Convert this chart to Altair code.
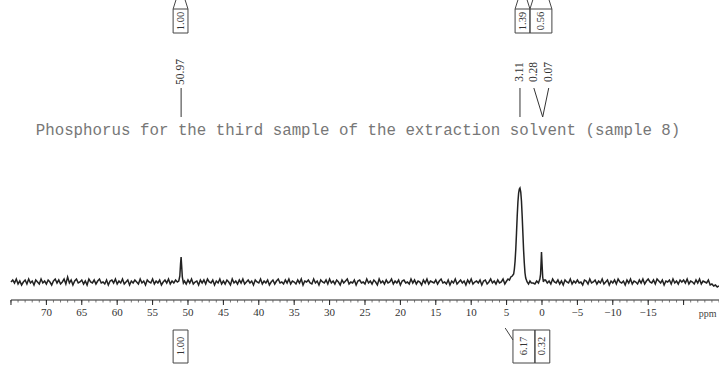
import altair as alt
import pandas as pd

# 31P spectrum: baseline noise sampled every 0.25 ppm from 75 to -25 ppm
grid_start = 75.0
grid_step = 0.25
baseline_noise = [
    0, 2, -1, 3, -2, 1, -3, 0, 2, -2, 3, -1, 1, -3, 2, 0, -2, 3, -1, 1,
    -2, 2, 0, -3, 1, 3, -1, 2, -2, 0, 3, -2, 5, -1, 2, -3, 1, 3, -1, 0,
    2, -2, 1, -3, 3, 0, -1, 2, -2, 1, 3, -1, 0, -2, 2, -3, 1, 2, -1, 3,
    -2, 1, -1, 3, -2, 0, 2, -3, 1, -1, 2, 0, -2, 3, -1, 1, -3, 2, 0, -1,
    3, -2, 1, -1, 2, -3, 0, 2, -1, 3, -2, 1, -1, 2, 0, -2, 3, -1, 1, -2,
    2, -1, 3, -2, 0, 1, -3, 2, -1, 2, -2, 3, 0, -1, 2, -3, 1, -1, 3, -2,
    1, -2, 2, 0, -3, 3, -1, 1, -2, 2, -1, 3, -2, 0, 2, -1, 1, -3, 2, 0,
    -1, 3, -2, 1, -1, 2, -3, 0, 2, -2, 1, 3, -1, 0, -2, 2, -1, 3, -2, 1,
    0, -2, 2, -1, 3, -3, 1, 0, 2, -1, -2, 3, -1, 1, -3, 2, 0, -1, 2, -2,
    3, -1, 1, -2, 2, 0, -3, 2, -1, 1, 3, -2, 0, -1, 2, -3, 1, 2, -1, 0,
    -2, 3, -1, 1, -2, 2, 0, -3, 3, -1, 1, -2, 2, -1, 0, 3, -2, 1, -1, 2,
    -3, 1, 2, -1, 0, -2, 3, -1, 2, -2, 1, 0, -3, 2, -1, 3, -2, 1, 0, -1,
    2, -2, 1, 3, -1, 0, -2, 2, -3, 1, -1, 3, -2, 0, 2, -1, 1, -3, 2, -1,
    3, -2, 0, 1, -1, 2, -3, 1, 2, -2, 0, 3, -1, 1, -2, 2, -1, 0, 3, -2,
    1, 2, 1, 3, 4, 5, 6, 7, 8, 6, 4, 3, 2, 1, 0, -1, -2, 1, -1, 0,
    1, 0, 2, -1, 1, -2, 3, 0, -1, 2, -2, 1, -3, 2, 0, -1, 3, -2, 1, -1,
    2, -1, 0, -3, 2, 1, -2, 3, -1, 0, 2, -2, 1, -1, 3, -2, 0, 2, -3, 1,
    -1, 2, -2, 3, 0, -1, 1, -3, 2, -1, 3, -2, 1, 0, -2, 2, -1, 3, -2, 1,
    3, 0, -1, 2, -2, 3, 1, -1, 2, -3, 1, 0, 2, -2, 3, -1, 1, -2, 2, 0,
    2, -1, 3, -2, 1, 0, -2, 2, -1, 3, -2, 1, 0, -1, 2, -3, -2, -4, -3, -5,
    -4,
]

# resolved signals (ppm, intensity)
peak1_ppm = [51.5, 51.3, 51.15, 51.05, 50.97, 50.9, 50.8, 50.65, 50.5]
peak1_int = [0, 1, 6, 18, 25, 17, 5, -1, 1]

peak2_ppm = [5.0, 4.8, 4.6, 4.4, 4.2, 4.0, 3.9, 3.8, 3.7, 3.6, 3.5, 3.4, 3.3,
             3.2, 3.11, 3.0, 2.9, 2.8, 2.7, 2.6, 2.5, 2.4, 2.3, 2.1, 1.9, 1.7, 1.5]
peak2_int = [1, 3, 2, 5, 6, 8, 13, 21, 33, 49, 66, 80, 89,
             93, 94, 90, 81, 66, 49, 32, 19, 9, 4, 0, -2, 1, -1]

peak3_ppm = [0.4, 0.3, 0.2, 0.12, 0.07, 0.0, -0.1, -0.2, -0.3]
peak3_int = [1, 3, 8, 21, 30, 19, 5, 0, 2]

# axis
major_ticks = [75, 70, 65, 60, 55, 50, 45, 40, 35, 30, 25, 20, 15, 10, 5, 0, -5, -10, -15, -20]
tick_labels = [70, 65, 60, 55, 50, 45, 40, 35, 30, 25, 20, 15, 10, 5, 0, -5, -10, -15]
minor_ticks = list(range(75, -26, -1))

title_text = "Phosphorus for the third sample of the extraction solvent (sample 8)"

# peak picking labels
pick_labels = ["50.97", "3.11", "0.28", "0.07"]
pick_label_ppm = [50.97, 3.11, 1.15, -0.95]
pick_peak_ppm = [50.97, 3.11, -0.1, -0.1]

# integral regions: above (previous trace) and below the axis
top_int_from = [52.1, 3.8, 1.7]
top_int_to = [50.0, 1.7, -1.4]
top_int_val = ["1.00", "1.39", "0.56"]
bot_int_from = [52.1, 4.1, 1.0]
bot_int_to = [50.0, 1.0, -1.1]
bot_int_val = ["1.00", "6.17", "0.32"]

# ---- assemble the trace ----
windows = [(min(p), max(p)) for p in (peak1_ppm, peak2_ppm, peak3_ppm)]
rows = []
for i, v in enumerate(baseline_noise):
    ppm = grid_start - i * grid_step
    if any(lo <= ppm <= hi for lo, hi in windows):
        continue
    rows.append((ppm, v))
for p, a in ((peak1_ppm, peak1_int), (peak2_ppm, peak2_int), (peak3_ppm, peak3_int)):
    rows.extend(zip(p, a))
spec = pd.DataFrame(rows, columns=["ppm", "intensity"]).sort_values("ppm", ascending=False)
spec["idx"] = range(len(spec))

xs = alt.Scale(domain=[76.55, -25.0], range=[0, 719], nice=False, zero=False)
ys = alt.Scale(domain=[-88, 282], range=[370, 0], nice=False, zero=False)

INK = "#222222"
GREY = "#555555"

trace = alt.Chart(spec).mark_line(color=INK, strokeWidth=1.5).encode(
    x=alt.X("ppm:Q", scale=xs, axis=None),
    y=alt.Y("intensity:Q", scale=ys, axis=None),
    order="idx:Q",
)

axis_line = alt.Chart(pd.DataFrame({"a": [75.0], "b": [-25.0]})).mark_rule(
    color=INK, strokeWidth=1
).encode(x=alt.X("a:Q", scale=xs), x2="b:Q", y=alt.value(300))

minor = alt.Chart(pd.DataFrame({"t": minor_ticks})).mark_rule(color=GREY, strokeWidth=0.8).encode(
    x=alt.X("t:Q", scale=xs), y=alt.value(300), y2=alt.value(302.5)
)
major = alt.Chart(pd.DataFrame({"t": major_ticks})).mark_rule(color=INK, strokeWidth=1).encode(
    x=alt.X("t:Q", scale=xs), y=alt.value(300), y2=alt.value(305)
)
labels_df = pd.DataFrame({"t": tick_labels,
                          "s": [str(t).replace("-", "\u2212") for t in tick_labels]})
tick_text = alt.Chart(labels_df).mark_text(
    font="Liberation Serif", fontSize=11, color="#333333", baseline="middle"
).encode(x=alt.X("t:Q", scale=xs), y=alt.value(313), text="s:N")

ppm_text = alt.Chart(pd.DataFrame({"t": [-23.4], "s": ["ppm"]})).mark_text(
    font="Liberation Serif", fontSize=10, color="#444444", baseline="middle"
).encode(x=alt.X("t:Q", scale=xs), y=alt.value(314), text="s:N")

title = alt.Chart(pd.DataFrame({"s": [title_text]})).mark_text(
    font="Liberation Mono", fontSize=15.8, color="#777777", baseline="middle"
).encode(x=alt.value(358), y=alt.value(130), text="s:N")

# peak picking
pick = pd.DataFrame({"s": pick_labels, "peak": pick_peak_ppm, "lab": pick_label_ppm})
pick_text = alt.Chart(pick).mark_text(
    font="Liberation Serif", fontSize=11.5, color="#333333", angle=270, baseline="middle"
).encode(x=alt.X("lab:Q", scale=xs), y=alt.value(72), text="s:N")
pick_lines = alt.Chart(pick).mark_rule(color="#333333", strokeWidth=1).encode(
    x=alt.X("lab:Q", scale=xs), x2="peak:Q", y=alt.value(88), y2=alt.value(117)
)

def integrals(frm, to, val, y0, y1, text_y):
    df = pd.DataFrame({"a": frm, "b": to, "s": val})
    df["m"] = (df["a"] + df["b"]) / 2
    box = alt.Chart(df).mark_rect(filled=False, stroke="#444444", strokeWidth=1).encode(
        x=alt.X("a:Q", scale=xs), x2="b:Q", y=alt.value(y0), y2=alt.value(y1)
    )
    txt = alt.Chart(df).mark_text(
        font="Liberation Serif", fontSize=10.5, color="#333333", angle=270, baseline="middle"
    ).encode(x=alt.X("m:Q", scale=xs), y=alt.value(text_y), text="s:N")
    return box, txt

top_box, top_txt = integrals(top_int_from, top_int_to, top_int_val, 9, 33, 21)
bot_box, bot_txt = integrals(bot_int_from, bot_int_to, bot_int_val, 330, 363, 346)

# tapered necks above the upper integral boxes
necks = pd.DataFrame({
    "a": top_int_from + top_int_to,
    "b": [v - 0.4 for v in top_int_from] + [v + 0.4 for v in top_int_to],
})
neck = alt.Chart(necks).mark_rule(color="#444444", strokeWidth=1).encode(
    x=alt.X("a:Q", scale=xs), x2="b:Q", y=alt.value(9), y2=alt.value(0)
)
# integral curve tail leading into the lower 6.17 box
tail = alt.Chart(pd.DataFrame({"a": [5.2], "b": [4.1]})).mark_rule(
    color="#444444", strokeWidth=1
).encode(x=alt.X("a:Q", scale=xs), x2="b:Q", y=alt.value(328), y2=alt.value(340))

chart = alt.layer(
    trace, axis_line, minor, major, tick_text, ppm_text, title,
    pick_text, pick_lines, top_box, top_txt, neck, bot_box, bot_txt, tail,
).properties(
    width=719, height=370, padding=0, autosize=alt.AutoSizeParams(type="none"),
    background="white",
).configure_view(stroke=None)

chart.save("out.html", embed_options={"renderer": "svg", "actions": False})
